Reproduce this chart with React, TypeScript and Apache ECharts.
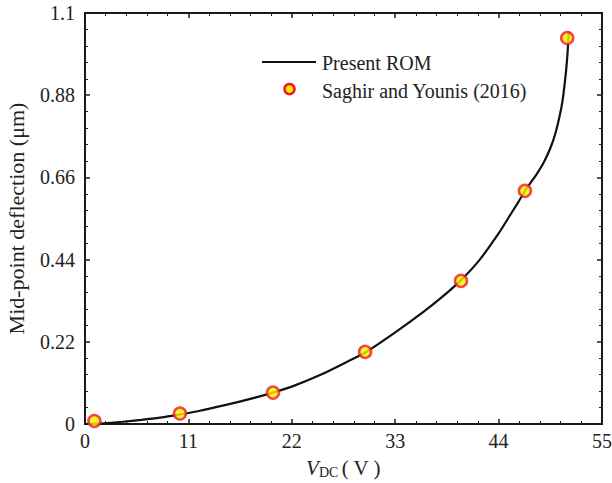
import React, { useEffect, useRef } from "react";
import * as echarts from "echarts";

const xTicks = { min: 0, max: 55, interval: 11 };
const yTicks = { min: 0, max: 1.1, interval: 0.22 };

const romV = [0, 2, 4, 6, 8, 10, 12, 15, 18, 20, 22, 25, 28, 30, 33, 36, 38, 40, 42, 44, 45, 46, 47, 48, 48.8, 49.5, 50, 50.5, 50.8, 51.05, 51.25, 51.4, 51.45];
const romW = [0, 0.002, 0.006, 0.011, 0.017, 0.025, 0.034, 0.051, 0.07, 0.084, 0.1, 0.131, 0.168, 0.194, 0.245, 0.3, 0.34, 0.385, 0.44, 0.51, 0.55, 0.59, 0.631, 0.667, 0.7, 0.738, 0.774, 0.825, 0.865, 0.915, 0.965, 1.02, 1.05];

const refV = [1, 10.1, 20, 29.8, 40, 46.8, 51.3];
const refW = [0.008, 0.028, 0.084, 0.193, 0.383, 0.624, 1.033];

const legendNames = ["Present ROM", "Saghir and Younis (2016)"];

const FONT = "'Liberation Serif', 'Times New Roman', serif";
const TXT = "#222";
const FRAME = "#1a1a1a";

export default function App() {
  const ref = useRef<HTMLDivElement>(null);
  useEffect(() => {
    if (!ref.current) return;
    const chart = echarts.init(ref.current, null, { renderer: "svg" });
    const frame = { show: true, onZero: false, lineStyle: { color: FRAME, width: 2 } };
    const tick = { show: true, inside: true, length: 5, lineStyle: { color: FRAME, width: 1.5 } };
    const minor = { show: true, splitNumber: 5, length: 3, lineStyle: { color: FRAME, width: 1 } };
    chart.setOption({
      animation: false,
      backgroundColor: "#ffffff",
      textStyle: { fontFamily: FONT },
      grid: {
        left: 85,
        right: 10,
        top: 13,
        bottom: 59,
        outerBoundsMode: "none",
        containLabel: false,
        show: true,
        borderColor: FRAME,
        borderWidth: 2,
        backgroundColor: "transparent",
      },
      graphic: [
        {
          type: "line",
          shape: { x1: 262, y1: 62, x2: 316, y2: 62 },
          style: { stroke: "#111", lineWidth: 2.2 },
        },
        {
          type: "text",
          x: 322,
          y: 63,
          style: { text: legendNames[0], fontFamily: FONT, fontSize: 20, fill: TXT, verticalAlign: "middle" },
        },
        {
          type: "circle",
          shape: { cx: 289.5, cy: 89, r: 5 },
          style: { fill: "#ffee00", stroke: "#ee1c24", lineWidth: 2.5 },
        },
        {
          type: "text",
          x: 322,
          y: 91,
          style: { text: legendNames[1], fontFamily: FONT, fontSize: 20, fill: TXT, verticalAlign: "middle" },
        },
      ],
      xAxis: [
        {
          type: "value",
          min: xTicks.min,
          max: xTicks.max,
          interval: xTicks.interval,
          axisLine: frame,
          axisTick: tick,
          minorTick: minor,
          splitLine: { show: false },
          axisLabel: { fontFamily: FONT, fontSize: 20, color: TXT, margin: 7 },
          name: "{i|V}{s|DC}{n|( V )}",
          nameLocation: "middle",
          nameGap: 32,
          nameTextStyle: {
            rich: {
              i: { fontFamily: FONT, fontStyle: "italic", fontSize: 21, color: TXT },
              s: { fontFamily: FONT, fontSize: 14, color: TXT, verticalAlign: "bottom", padding: [9, 3, 0, 0] },
              n: { fontFamily: FONT, fontSize: 21, color: TXT },
            },
          },
        },
        {
          type: "value",
          position: "top",
          min: xTicks.min,
          max: xTicks.max,
          interval: xTicks.interval,
          axisLine: frame,
          axisTick: tick,
          minorTick: minor,
          splitLine: { show: false },
          axisLabel: { show: false },
        },
      ],
      yAxis: [
        {
          type: "value",
          min: yTicks.min,
          max: yTicks.max,
          interval: yTicks.interval,
          axisLine: frame,
          axisTick: tick,
          minorTick: minor,
          splitLine: { show: false },
          axisLabel: { fontFamily: FONT, fontSize: 20, color: TXT, margin: 10 },
          name: "Mid-point deflection (μm)",
          nameLocation: "middle",
          nameGap: 58,
          nameTextStyle: { fontFamily: FONT, fontSize: 22, color: TXT },
        },
        {
          type: "value",
          position: "right",
          min: yTicks.min,
          max: yTicks.max,
          interval: yTicks.interval,
          axisLine: frame,
          axisTick: tick,
          minorTick: minor,
          splitLine: { show: false },
          axisLabel: { show: false },
        },
      ],
      series: [
        {
          name: legendNames[0],
          type: "line",
          smooth: 0.3,
          showSymbol: false,
          symbol: "none",
          data: romV.map((v, i) => [v, romW[i]]),
          lineStyle: { color: "#111", width: 2.2 },
          itemStyle: { color: "#111" },
          z: 2,
        },
        {
          name: legendNames[1],
          type: "scatter",
          symbol: "circle",
          symbolSize: 12,
          data: refV.map((v, i) => [v, refW[i]]),
          itemStyle: { color: "#ffee00", borderColor: "#ee1c24", borderWidth: 2.5 },
          z: 3,
        },
        {
          name: "frame",
          type: "scatter",
          xAxisIndex: 1,
          yAxisIndex: 1,
          data: [],
          silent: true,
        },
      ],
    });
    return () => chart.dispose();
  }, []);
  return (
    <div
      ref={ref}
      style={{ position: "fixed", left: 0, top: 0, width: 612, height: 483, background: "#fff" }}
    />
  );
}
